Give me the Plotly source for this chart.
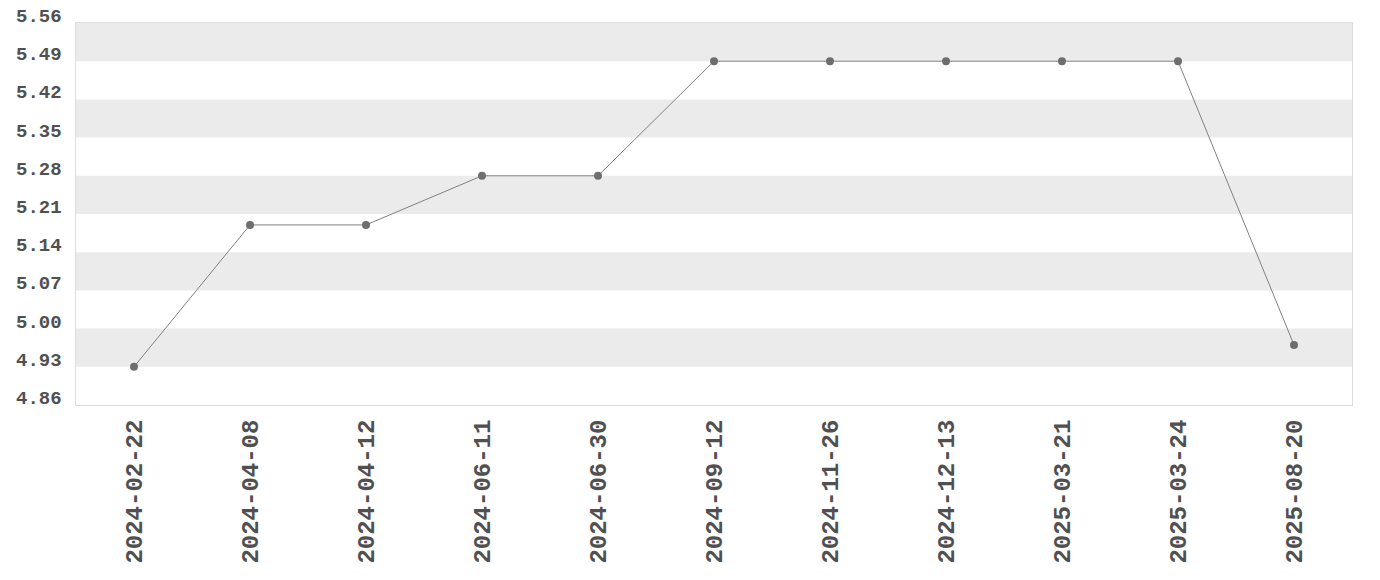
import plotly.graph_objects as go

dates = ["2024-02-22", "2024-04-08", "2024-04-12", "2024-06-11", "2024-06-30",
         "2024-09-12", "2024-11-26", "2024-12-13", "2025-03-21", "2025-03-24",
         "2025-08-20"]
rates = [4.93, 5.19, 5.19, 5.28, 5.28, 5.49, 5.49, 5.49, 5.49, 5.49, 4.97]
y_ticks = [4.86, 4.93, 5.00, 5.07, 5.14, 5.21, 5.28, 5.35, 5.42, 5.49, 5.56]

FONT = "Liberation Mono"
TEXT = "#505050"

fig = go.Figure()
fig.add_trace(go.Scatter(
    x=dates, y=rates, mode="lines+markers",
    line=dict(color="#808080", width=1),
    marker=dict(color="#6e6e6e", size=8),
))

# alternating grey bands, from the top down
for i in range(len(y_ticks) - 1, 0, -2):
    fig.add_shape(type="rect", xref="paper", yref="y", layer="below",
                  x0=0, x1=1, y0=y_ticks[i - 1], y1=y_ticks[i],
                  fillcolor="#ebebeb", line_width=0)

# y labels sit a little above their tick, so they are drawn as annotations
for v in y_ticks:
    fig.add_annotation(
        xref="paper", yref="y", x=0, y=v, text=f"{v:.2f}",
        showarrow=False, xanchor="right", yanchor="middle",
        xshift=-12, yshift=6,
        font=dict(family=FONT, size=19, weight="bold", color=TEXT),
    )

# the page body adds an 8px offset, margins compensate for it
fig.update_layout(
    width=1380, height=580,
    margin=dict(l=68, r=36, t=15, b=183),
    paper_bgcolor="white", plot_bgcolor="white",
    showlegend=False,
    font=dict(family=FONT, color=TEXT),
)
fig.update_xaxes(
    type="category", range=[-0.5, len(dates) - 0.5], automargin=False,
    tickangle=-90, showgrid=False, zeroline=False,
    showline=True, linecolor="#dddddd", mirror=True,
    ticklabelstandoff=4,
    tickfont=dict(family=FONT, size=24, weight="bold", color=TEXT),
)
fig.update_yaxes(
    range=[y_ticks[0], y_ticks[-1]], tickvals=y_ticks, automargin=False,
    showticklabels=False, showgrid=False, zeroline=False,
    showline=True, linecolor="#dddddd", mirror=True,
)

fig.write_html("out.html")
